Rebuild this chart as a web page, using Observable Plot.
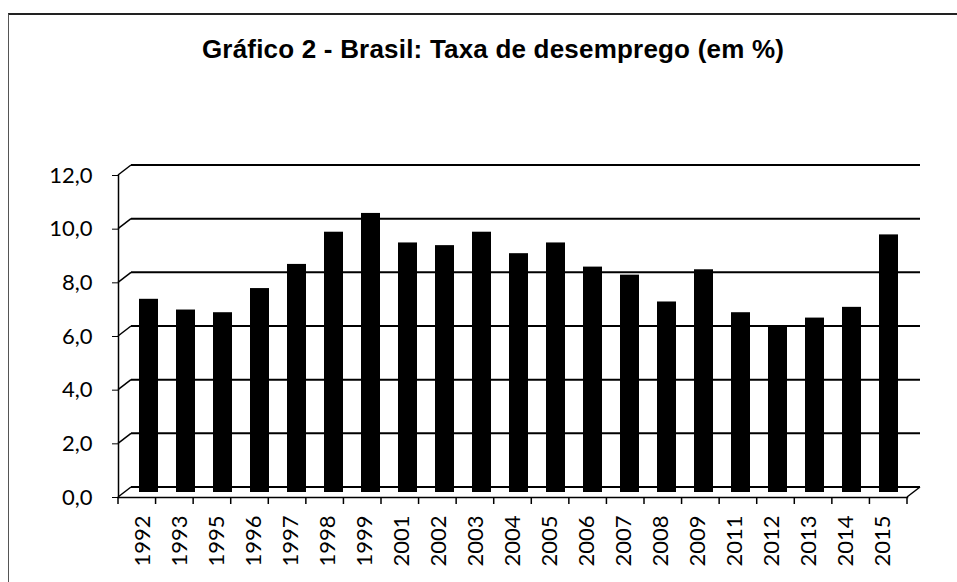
<!DOCTYPE html>
<html><head><meta charset="utf-8">
<script src="https://cdn.jsdelivr.net/npm/d3@7"></script>
<script src="https://cdn.jsdelivr.net/npm/@observablehq/plot@0.6"></script>
<style>
body{margin:0;background:#fff;}
#wrap{position:relative;width:957px;height:582px;overflow:hidden;background:#fff;}
#frame{position:absolute;left:8px;top:13px;width:960px;height:600px;border-top:2px solid #222;border-left:1px solid #555;}
#title{position:absolute;top:34px;left:0;width:986px;text-align:center;font:bold 26px "Liberation Sans",Arial,sans-serif;letter-spacing:0.2px;color:#000;white-space:nowrap;}
#chart{position:absolute;left:0;top:0;}
</style></head><body>
<div id="wrap"><div id="frame"></div><div id="chart"></div><div id="title">Gráfico 2 - Brasil: Taxa de desemprego (em %)</div></div>
<script>
const years = ["1992","1993","1995","1996","1997","1998","1999","2001","2002","2003","2004","2005","2006","2007","2008","2009","2011","2012","2013","2014","2015"];
const rates = [7.2, 6.8, 6.7, 7.6, 8.5, 9.7, 10.4, 9.3, 9.2, 9.7, 8.9, 9.3, 8.4, 8.1, 7.1, 8.3, 6.7, 6.2, 6.5, 6.9, 9.6];
const yTicks = [0, 2, 4, 6, 8, 10, 12];

const data = years.map((year, i) => ({year, rate: rates[i]}));
const DX = 13, DY = -10; // depth of the 3D back wall

function walls(index, scales, values, dims) {
  const y = scales.y;
  const x0 = dims.marginLeft, x1 = dims.width - dims.marginRight;
  const yb = dims.height - dims.marginBottom;
  const step = (x1 - x0) / years.length;
  const g = d3.create("svg:g").attr("fill", "none").attr("stroke", "#000");
  for (const t of yTicks) {
    const yy = y(t);
    g.append("line").attr("x1", x0 + DX).attr("x2", x1 + DX).attr("y1", yy + DY).attr("y2", yy + DY).attr("stroke-width", 2);
    g.append("line").attr("x1", x0).attr("x2", x0 + DX).attr("y1", yy).attr("y2", yy + DY).attr("stroke-width", 1.5);
  }
  g.append("line").attr("x1", x1).attr("x2", x1 + DX).attr("y1", yb).attr("y2", yb + DY).attr("stroke-width", 1.5);
  for (let i = 0; i <= years.length; i++) {
    const xx = x0 + i * step;
    g.append("line").attr("x1", xx).attr("x2", xx).attr("y1", yb).attr("y2", yb + 7).attr("stroke-width", 1.5);
  }
  return g.node();
}

const chart = Plot.plot({
  width: 957,
  height: 582,
  marginLeft: 118,
  marginRight: 50,
  marginTop: 175,
  marginBottom: 85,
  style: {fontFamily: "Lato, sans-serif", color: "#000", background: "transparent"},
  x: {domain: years, padding: 0},
  y: {domain: [0, 12]},
  marks: [
    walls,
    Plot.barY(data, {x: "year", y: "rate", fill: "#000", insetLeft: 9, insetRight: 9, dx: 6, dy: -5}),
    Plot.frame({anchor: "left", stroke: "#000", strokeWidth: 1.5}),
    Plot.frame({anchor: "bottom", stroke: "#000", strokeWidth: 1.5}),
    Plot.axisY({ticks: yTicks, tickFormat: d => d.toFixed(1).replace(".", ","), tickSize: 6, tickPadding: 20, fontSize: 22, label: null}),
    Plot.axisX({tickRotate: -90, tickSize: 0, tickPadding: 18, fontSize: 22, label: null})
  ]
});
document.getElementById("chart").append(chart);
</script>
</body></html>
